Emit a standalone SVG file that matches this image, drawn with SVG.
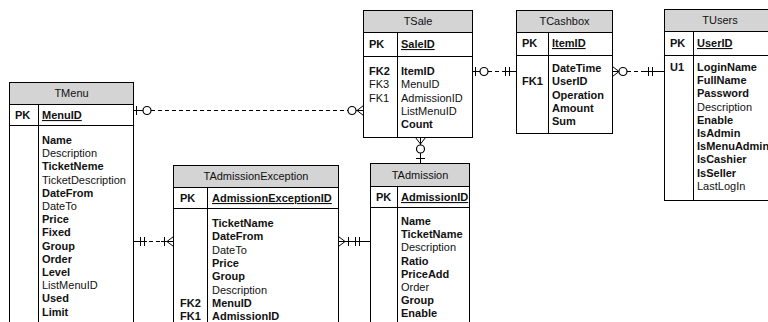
<svg xmlns="http://www.w3.org/2000/svg" width="768" height="322" viewBox="0 0 768 322">
<defs>
<style>
.box{fill:#ffffff;stroke:#000;stroke-width:1}
.hdr{fill:#d4d4d4;stroke:#000;stroke-width:1}
.ln{stroke:#000;stroke-width:1;fill:none}
.dash{stroke:#000;stroke-width:1;fill:none;stroke-dasharray:4,3}
.circ{fill:#fff;stroke:#000;stroke-width:1.2}
text{font-family:"Liberation Sans",Arial,sans-serif;font-size:11px;fill:#111}
.t{text-anchor:middle}
.b{font-weight:bold}
.u{font-weight:bold;text-decoration:underline}
</style>
</defs>
<rect width="768" height="322" fill="#fff"/>

<g id="TMenu">
<rect class="box" x="9.5" y="82.5" width="124" height="260"/>
<rect class="hdr" x="9.5" y="82.5" width="124" height="22"/>
<line class="ln" x1="9.5" y1="125.5" x2="133.5" y2="125.5"/>
<line class="ln" x1="38.5" y1="104.5" x2="38.5" y2="342"/>
<text class="t" x="71.5" y="97">TMenu</text>
<text class="b" x="15" y="119">PK</text>
<text class="u" x="42" y="119">MenuID</text>
<text class="b" x="42" y="144">Name</text>
<text x="42" y="157.2">Description</text>
<text class="b" x="42" y="170.4">TicketNeme</text>
<text x="42" y="183.6">TicketDescription</text>
<text class="b" x="42" y="196.8">DateFrom</text>
<text x="42" y="210">DateTo</text>
<text class="b" x="42" y="223.2">Price</text>
<text class="b" x="42" y="236.4">Fixed</text>
<text class="b" x="42" y="249.6">Group</text>
<text class="b" x="42" y="262.8">Order</text>
<text class="b" x="42" y="276">Level</text>
<text x="42" y="289.2">ListMenuID</text>
<text class="b" x="42" y="302.4">Used</text>
<text class="b" x="42" y="315.6">Limit</text>
</g>

<g id="TSale">
<rect class="box" x="363.5" y="10.5" width="109" height="127"/>
<rect class="hdr" x="363.5" y="10.5" width="109" height="22"/>
<line class="ln" x1="363.5" y1="56.5" x2="472.5" y2="56.5"/>
<line class="ln" x1="397.5" y1="32.5" x2="397.5" y2="137.5"/>
<text class="t" x="418" y="25">TSale</text>
<text class="b" x="369" y="48">PK</text>
<text class="u" x="401" y="48">SaleID</text>
<text class="b" x="369" y="75">FK2</text>
<text x="369" y="88.3">FK3</text>
<text x="369" y="101.6">FK1</text>
<text class="b" x="401" y="75">ItemID</text>
<text x="401" y="88.3">MenuID</text>
<text x="401" y="101.6">AdmissionID</text>
<text x="401" y="114.9">ListMenuID</text>
<text class="b" x="401" y="128.2">Count</text>
</g>

<g id="TCashbox">
<rect class="box" x="516.5" y="10.5" width="96" height="123"/>
<rect class="hdr" x="516.5" y="10.5" width="96" height="22"/>
<line class="ln" x1="516.5" y1="55.5" x2="612.5" y2="55.5"/>
<line class="ln" x1="548.5" y1="32.5" x2="548.5" y2="133.5"/>
<text class="t" x="564.5" y="25">TCashbox</text>
<text class="b" x="522" y="47">PK</text>
<text class="u" x="552" y="47">ItemID</text>
<text class="b" x="522" y="85.3">FK1</text>
<text class="b" x="552" y="72">DateTime</text>
<text class="b" x="552" y="85.3">UserID</text>
<text class="b" x="552" y="98.6">Operation</text>
<text class="b" x="552" y="111.9">Amount</text>
<text class="b" x="552" y="125.2">Sum</text>
</g>

<g id="TUsers">
<rect class="box" x="664.5" y="9.5" width="130" height="191"/>
<rect class="hdr" x="664.5" y="9.5" width="130" height="22"/>
<line class="ln" x1="664.5" y1="55.5" x2="794.5" y2="55.5"/>
<line class="ln" x1="693.5" y1="31.5" x2="693.5" y2="200.5"/>
<text class="t" x="720" y="24">TUsers</text>
<text class="b" x="670" y="47">PK</text>
<text class="u" x="697" y="47">UserID</text>
<text class="b" x="670" y="71">U1</text>
<text class="b" x="697" y="71">LoginName</text>
<text class="b" x="697" y="84.2">FullName</text>
<text class="b" x="697" y="97.4">Password</text>
<text x="697" y="110.6">Description</text>
<text class="b" x="697" y="123.8">Enable</text>
<text class="b" x="697" y="137">IsAdmin</text>
<text class="b" x="697" y="150.2">IsMenuAdmin</text>
<text class="b" x="697" y="163.4">IsCashier</text>
<text class="b" x="697" y="176.6">IsSeller</text>
<text x="697" y="189.8">LastLogIn</text>
</g>

<g id="TAdmissionException">
<rect class="box" x="173.5" y="165.5" width="165" height="180"/>
<rect class="hdr" x="173.5" y="165.5" width="165" height="22"/>
<line class="ln" x1="173.5" y1="208.5" x2="338.5" y2="208.5"/>
<line class="ln" x1="207.5" y1="187.5" x2="207.5" y2="345"/>
<text class="t" x="256" y="180">TAdmissionException</text>
<text class="b" x="180" y="202">PK</text>
<text class="u" x="212" y="202">AdmissionExceptionID</text>
<text class="b" x="212" y="227">TicketName</text>
<text class="b" x="212" y="240.3">DateFrom</text>
<text x="212" y="253.6">DateTo</text>
<text class="b" x="212" y="266.9">Price</text>
<text class="b" x="212" y="280.2">Group</text>
<text x="212" y="293.5">Description</text>
<text class="b" x="180" y="306.8">FK2</text>
<text class="b" x="212" y="306.8">MenuID</text>
<text class="b" x="180" y="320.1">FK1</text>
<text class="b" x="212" y="320.1">AdmissionID</text>
</g>

<g id="TAdmission">
<rect class="box" x="370.5" y="163.5" width="99" height="180"/>
<rect class="hdr" x="370.5" y="163.5" width="99" height="23"/>
<line class="ln" x1="370.5" y1="207.5" x2="469.5" y2="207.5"/>
<line class="ln" x1="397.5" y1="186.5" x2="397.5" y2="343"/>
<text class="t" x="420" y="179">TAdmission</text>
<text class="b" x="376" y="201">PK</text>
<text class="u" x="401" y="201">AdmissionID</text>
<text class="b" x="401" y="225">Name</text>
<text class="b" x="401" y="238.2">TicketName</text>
<text x="401" y="251.4">Description</text>
<text class="b" x="401" y="264.6">Ratio</text>
<text class="b" x="401" y="277.8">PriceAdd</text>
<text x="401" y="291">Order</text>
<text class="b" x="401" y="304.2">Group</text>
<text class="b" x="401" y="317.4">Enable</text>
</g>

<g id="connectors">
<!-- TMenu - TSale -->
<line class="ln" x1="133.5" y1="110.5" x2="143" y2="110.5"/>
<line class="ln" x1="136.5" y1="106" x2="136.5" y2="115"/>
<line class="dash" x1="151" y1="110.5" x2="348" y2="110.5"/>
<circle class="circ" cx="147" cy="110.5" r="4"/>
<circle class="circ" cx="352" cy="110.5" r="4"/>
<path class="ln" d="M356,110.5 H363.5 M357,110.5 L363.5,105.5 M357,110.5 L363.5,115.5"/>

<!-- TSale - TCashbox -->
<line class="ln" x1="472.5" y1="71.5" x2="480" y2="71.5"/>
<line class="ln" x1="475.5" y1="67" x2="475.5" y2="76"/>
<circle class="circ" cx="484" cy="71.5" r="4"/>
<line class="dash" x1="488" y1="71.5" x2="503" y2="71.5"/>
<line class="ln" x1="503" y1="71.5" x2="516.5" y2="71.5"/>
<line class="ln" x1="505.5" y1="67" x2="505.5" y2="76"/>
<line class="ln" x1="509.5" y1="67" x2="509.5" y2="76"/>

<!-- TCashbox - TUsers -->
<path class="ln" d="M612.5,71.5 H619 M612.5,66.5 L619,71.5 M612.5,76.5 L619,71.5"/>
<circle class="circ" cx="623" cy="71.5" r="4"/>
<line class="dash" x1="627" y1="71.5" x2="645" y2="71.5"/>
<line class="ln" x1="645" y1="71.5" x2="664.5" y2="71.5"/>
<line class="ln" x1="648.5" y1="67" x2="648.5" y2="76"/>
<line class="ln" x1="652.5" y1="67" x2="652.5" y2="76"/>

<!-- TMenu - TAdmissionException -->
<line class="ln" x1="133.5" y1="241.5" x2="147" y2="241.5"/>
<line class="ln" x1="140.5" y1="237" x2="140.5" y2="246"/>
<line class="ln" x1="144.5" y1="237" x2="144.5" y2="246"/>
<line class="dash" x1="149" y1="241.5" x2="161" y2="241.5"/>
<line class="ln" x1="161" y1="241.5" x2="173.5" y2="241.5"/>
<line class="ln" x1="164.5" y1="237" x2="164.5" y2="246"/>
<path class="ln" d="M167,241.5 L173.5,236.5 M167,241.5 L173.5,246.5"/>

<!-- TAdmissionException - TAdmission -->
<line class="ln" x1="338.5" y1="241.5" x2="370.5" y2="241.5"/>
<path class="ln" d="M338.5,236.5 L345,241.5 M338.5,246.5 L345,241.5"/>
<line class="ln" x1="348.5" y1="237" x2="348.5" y2="246"/>
<line class="ln" x1="355.5" y1="237" x2="355.5" y2="246"/>
<line class="ln" x1="359.5" y1="237" x2="359.5" y2="246"/>

<!-- TSale - TAdmission -->
<line class="ln" x1="420.5" y1="137.5" x2="420.5" y2="145"/>
<path class="ln" d="M415.5,137.5 L420.5,144 M425.5,137.5 L420.5,144"/>
<circle class="circ" cx="420.5" cy="149" r="4"/>
<line class="ln" x1="420.5" y1="153" x2="420.5" y2="163.5"/>
<line class="ln" x1="416" y1="158.5" x2="425" y2="158.5"/>
</g>
</svg>
